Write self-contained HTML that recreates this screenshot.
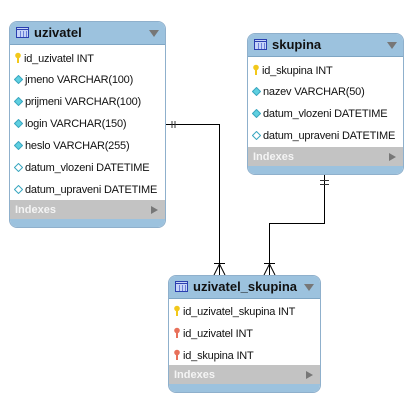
<!DOCTYPE html>
<html><head><meta charset="utf-8"><style>
html,body{margin:0;padding:0;background:#fff;width:412px;height:410px;overflow:hidden;position:relative;font-family:"Liberation Sans",sans-serif;}
.t{position:absolute;background:#fff;border:1px solid #8fb0cc;border-radius:8px;overflow:hidden;box-sizing:border-box;}
.h{height:23px;background:#9cc2de;position:relative;border-bottom:1px solid #7fa6c4;box-sizing:border-box;}
.h .ic{position:absolute;left:6px;top:5px;width:13px;height:11px;border:1px solid #2a3fb0;background:#c6d4f8;box-sizing:border-box;}
.h .ic:before{content:"";position:absolute;left:0;right:0;top:1px;height:1px;background:#2a3fb0;}
.h .ic i{position:absolute;top:3px;bottom:0;width:1px;background:#6b80d8;}
.h b{position:absolute;left:24px;top:3px;font-size:13px;color:#111;}
.h .tri{position:absolute;right:6px;top:8px;width:0;height:0;border-left:5px solid transparent;border-right:5px solid transparent;border-top:7px solid #777;}
.r{position:absolute;left:4px;font-size:11px;color:#111;white-space:nowrap;letter-spacing:-0.2px;}
.r svg{vertical-align:-1px;margin-right:2px;}
.ix{position:absolute;left:0;right:0;height:20px;background:#c3c3c3;color:#f4f4f4;font-size:11px;font-weight:bold;}
.ix span{position:absolute;left:5px;top:4px;}
.ix .p{position:absolute;right:7px;top:6px;width:0;height:0;border-top:4px solid transparent;border-bottom:4px solid transparent;border-left:7px solid #777;}
.bb{position:absolute;left:0;right:0;bottom:0;height:8px;background:#9cc2de;}
</style></head><body>
<svg width="412" height="410" style="position:absolute;left:0;top:0" fill="none" stroke="#000" stroke-width="1">
<path d="M165.5 124.5H219.5V275"/>
<path d="M172 121v7M175 121v7" stroke="#333"/>
<path d="M214 263.5h11M219.5 264L214 275M219.5 264L225 275"/>
<path d="M324.5 175V223.5H269.5V275"/>
<path d="M320 180.5h9M320 184.5h9" stroke="#333"/>
<path d="M264 263.5h11M269.5 264L264 275M269.5 264L275 275"/>
</svg>
<svg width="0" height="0" style="position:absolute"><defs>
<g id="k"><circle cx="4" cy="3.5" r="2.8"/><rect x="3" y="5" width="2" height="6"/></g>
</defs></svg>

<div class="t" style="left:9px;top:21px;width:157px;height:207px">
<div class="h"><div class="ic"><i style="left:3px"></i><i style="left:6px"></i><i style="left:9px"></i></div><b>uzivatel</b><div class="tri"></div></div>
<div class="r" style="top:30px"><svg width="8" height="11"><use href="#k" fill="#f2c81a"/></svg>id_uzivatel INT</div>
<div class="r" style="top:52px"><svg width="9" height="9"><path d="M4.5 0.5L8.5 4.5L4.5 8.5L0.5 4.5Z" fill="#5fd0e0" stroke="#3aa7c0"/></svg>jmeno VARCHAR(100)</div>
<div class="r" style="top:74px"><svg width="9" height="9"><path d="M4.5 0.5L8.5 4.5L4.5 8.5L0.5 4.5Z" fill="#5fd0e0" stroke="#3aa7c0"/></svg>prijmeni VARCHAR(100)</div>
<div class="r" style="top:96px"><svg width="9" height="9"><path d="M4.5 0.5L8.5 4.5L4.5 8.5L0.5 4.5Z" fill="#5fd0e0" stroke="#3aa7c0"/></svg>login VARCHAR(150)</div>
<div class="r" style="top:118px"><svg width="9" height="9"><path d="M4.5 0.5L8.5 4.5L4.5 8.5L0.5 4.5Z" fill="#5fd0e0" stroke="#3aa7c0"/></svg>heslo VARCHAR(255)</div>
<div class="r" style="top:140px"><svg width="9" height="9"><path d="M4.5 0.5L8.5 4.5L4.5 8.5L0.5 4.5Z" fill="#fff" stroke="#3aa7c0"/></svg>datum_vlozeni DATETIME</div>
<div class="r" style="top:162px"><svg width="9" height="9"><path d="M4.5 0.5L8.5 4.5L4.5 8.5L0.5 4.5Z" fill="#fff" stroke="#3aa7c0"/></svg>datum_upraveni DATETIME</div>
<div class="ix" style="top:178px"><span>Indexes</span><div class="p"></div></div>
<div class="bb"></div>
</div>

<div class="t" style="left:247px;top:33px;width:157px;height:142px">
<div class="h"><div class="ic"><i style="left:3px"></i><i style="left:6px"></i><i style="left:9px"></i></div><b>skupina</b><div class="tri"></div></div>
<div class="r" style="top:30px"><svg width="8" height="11"><use href="#k" fill="#f2c81a"/></svg>id_skupina INT</div>
<div class="r" style="top:52px"><svg width="9" height="9"><path d="M4.5 0.5L8.5 4.5L4.5 8.5L0.5 4.5Z" fill="#5fd0e0" stroke="#3aa7c0"/></svg>nazev VARCHAR(50)</div>
<div class="r" style="top:74px"><svg width="9" height="9"><path d="M4.5 0.5L8.5 4.5L4.5 8.5L0.5 4.5Z" fill="#5fd0e0" stroke="#3aa7c0"/></svg>datum_vlozeni DATETIME</div>
<div class="r" style="top:96px"><svg width="9" height="9"><path d="M4.5 0.5L8.5 4.5L4.5 8.5L0.5 4.5Z" fill="#fff" stroke="#3aa7c0"/></svg>datum_upraveni DATETIME</div>
<div class="ix" style="top:113px"><span>Indexes</span><div class="p"></div></div>
<div class="bb"></div>
</div>

<div class="t" style="left:168px;top:275px;width:153px;height:118px">
<div class="h"><div class="ic"><i style="left:3px"></i><i style="left:6px"></i><i style="left:9px"></i></div><b>uzivatel_skupina</b><div class="tri"></div></div>
<div class="r" style="top:29px"><svg width="8" height="11"><use href="#k" fill="#f2c81a"/></svg>id_uzivatel_skupina INT</div>
<div class="r" style="top:51px"><svg width="8" height="11"><use href="#k" fill="#e8705a"/></svg>id_uzivatel INT</div>
<div class="r" style="top:73px"><svg width="8" height="11"><use href="#k" fill="#e8705a"/></svg>id_skupina INT</div>
<div class="ix" style="top:89px"><span>Indexes</span><div class="p"></div></div>
<div class="bb"></div>
</div>
</body></html>
